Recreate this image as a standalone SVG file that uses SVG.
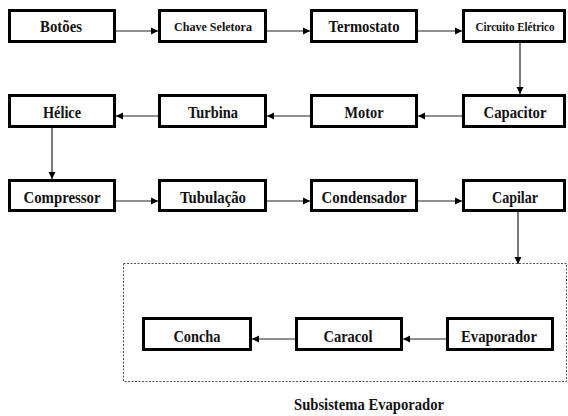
<svg xmlns="http://www.w3.org/2000/svg" width="568" height="416" viewBox="0 0 568 416">
<style>
.box{fill:#fff;stroke:#000;stroke-width:3}
.t{font-family:'Liberation Serif','DejaVu Serif','Times New Roman',serif;font-weight:700;font-size:16px;fill:#111;text-anchor:middle}
.s{font-size:12.5px}
.c{stroke:#222;stroke-width:1.2;fill:none;marker-end:url(#ah)}
.grp{fill:none;stroke:#555;stroke-width:1;stroke-dasharray:2 1.5}
</style>
<defs>
<marker id="ah" markerWidth="8" markerHeight="8" refX="7" refY="4" orient="auto" markerUnits="userSpaceOnUse">
<path d="M0,0.5 L7,4 L0,7.5 Z" fill="#000"/>
</marker>
</defs>
<rect width="568" height="416" fill="#fff"/>
<rect id="subsistema" class="grp" x="123.5" y="263.5" width="443" height="118"/>
<g id="connectors">
<line class="c" x1="116" y1="31" x2="158" y2="31"/>
<line class="c" x1="267" y1="31" x2="310" y2="31"/>
<line class="c" x1="418" y1="31" x2="462" y2="31"/>
<line class="c" x1="520" y1="43" x2="520" y2="94"/>
<line class="c" x1="462" y1="116" x2="418" y2="116"/>
<line class="c" x1="310" y1="116" x2="267" y2="116"/>
<line class="c" x1="158" y1="116" x2="116" y2="116"/>
<line class="c" x1="52" y1="128" x2="52" y2="179"/>
<line class="c" x1="116" y1="201" x2="158" y2="201"/>
<line class="c" x1="267" y1="201" x2="310" y2="201"/>
<line class="c" x1="418" y1="201" x2="462" y2="201"/>
<line class="c" x1="518" y1="212" x2="518" y2="264"/>
<line class="c" x1="446" y1="339" x2="403" y2="339"/>
<line class="c" x1="295" y1="339" x2="252" y2="339"/>
</g>
<g id="botoes"><rect class="box" x="9.5" y="10.5" width="105" height="31"/><text class="t" x="61" y="32" textLength="42" lengthAdjust="spacingAndGlyphs">Botões</text></g>
<g id="chave"><rect class="box" x="159.5" y="10.5" width="106" height="31"/><text class="t s" x="213" y="31" textLength="78" lengthAdjust="spacingAndGlyphs">Chave Seletora</text></g>
<g id="termostato"><rect class="box" x="311.5" y="10.5" width="105" height="31"/><text class="t" x="364" y="32" textLength="71" lengthAdjust="spacingAndGlyphs">Termostato</text></g>
<g id="circuito"><rect class="box" x="463.5" y="10.5" width="101" height="31"/><text class="t s" x="515" y="31" textLength="79" lengthAdjust="spacingAndGlyphs">Circuito Elétrico</text></g>
<g id="helice"><rect class="box" x="9.5" y="95.5" width="105" height="31"/><text class="t" x="62" y="118" textLength="38" lengthAdjust="spacingAndGlyphs">Hélice</text></g>
<g id="turbina"><rect class="box" x="159.5" y="95.5" width="106" height="31"/><text class="t" x="213" y="118" textLength="50" lengthAdjust="spacingAndGlyphs">Turbina</text></g>
<g id="motor"><rect class="box" x="311.5" y="95.5" width="105" height="31"/><text class="t" x="364" y="118" textLength="39" lengthAdjust="spacingAndGlyphs">Motor</text></g>
<g id="capacitor"><rect class="box" x="463.5" y="95.5" width="101" height="31"/><text class="t" x="515" y="118" textLength="63" lengthAdjust="spacingAndGlyphs">Capacitor</text></g>
<g id="compressor"><rect class="box" x="9.5" y="180.5" width="105" height="30"/><text class="t" x="62" y="203" textLength="77" lengthAdjust="spacingAndGlyphs">Compressor</text></g>
<g id="tubulacao"><rect class="box" x="159.5" y="180.5" width="106" height="30"/><text class="t" x="213" y="203" textLength="66" lengthAdjust="spacingAndGlyphs">Tubulação</text></g>
<g id="condensador"><rect class="box" x="311.5" y="180.5" width="105" height="30"/><text class="t" x="364" y="203" textLength="85" lengthAdjust="spacingAndGlyphs">Condensador</text></g>
<g id="capilar"><rect class="box" x="463.5" y="180.5" width="101" height="30"/><text class="t" x="515" y="203" textLength="46" lengthAdjust="spacingAndGlyphs">Capilar</text></g>
<g id="concha"><rect class="box" x="143.5" y="318.5" width="107" height="31"/><text class="t" x="197" y="342" textLength="47" lengthAdjust="spacingAndGlyphs">Concha</text></g>
<g id="caracol"><rect class="box" x="296.5" y="318.5" width="105" height="31"/><text class="t" x="348" y="342" textLength="49" lengthAdjust="spacingAndGlyphs">Caracol</text></g>
<g id="evaporador"><rect class="box" x="447.5" y="318.5" width="105" height="31"/><text class="t" x="499" y="342" textLength="76" lengthAdjust="spacingAndGlyphs">Evaporador</text></g>
<text class="t" x="369" y="410" textLength="150" lengthAdjust="spacingAndGlyphs">Subsistema Evaporador</text>
</svg>
